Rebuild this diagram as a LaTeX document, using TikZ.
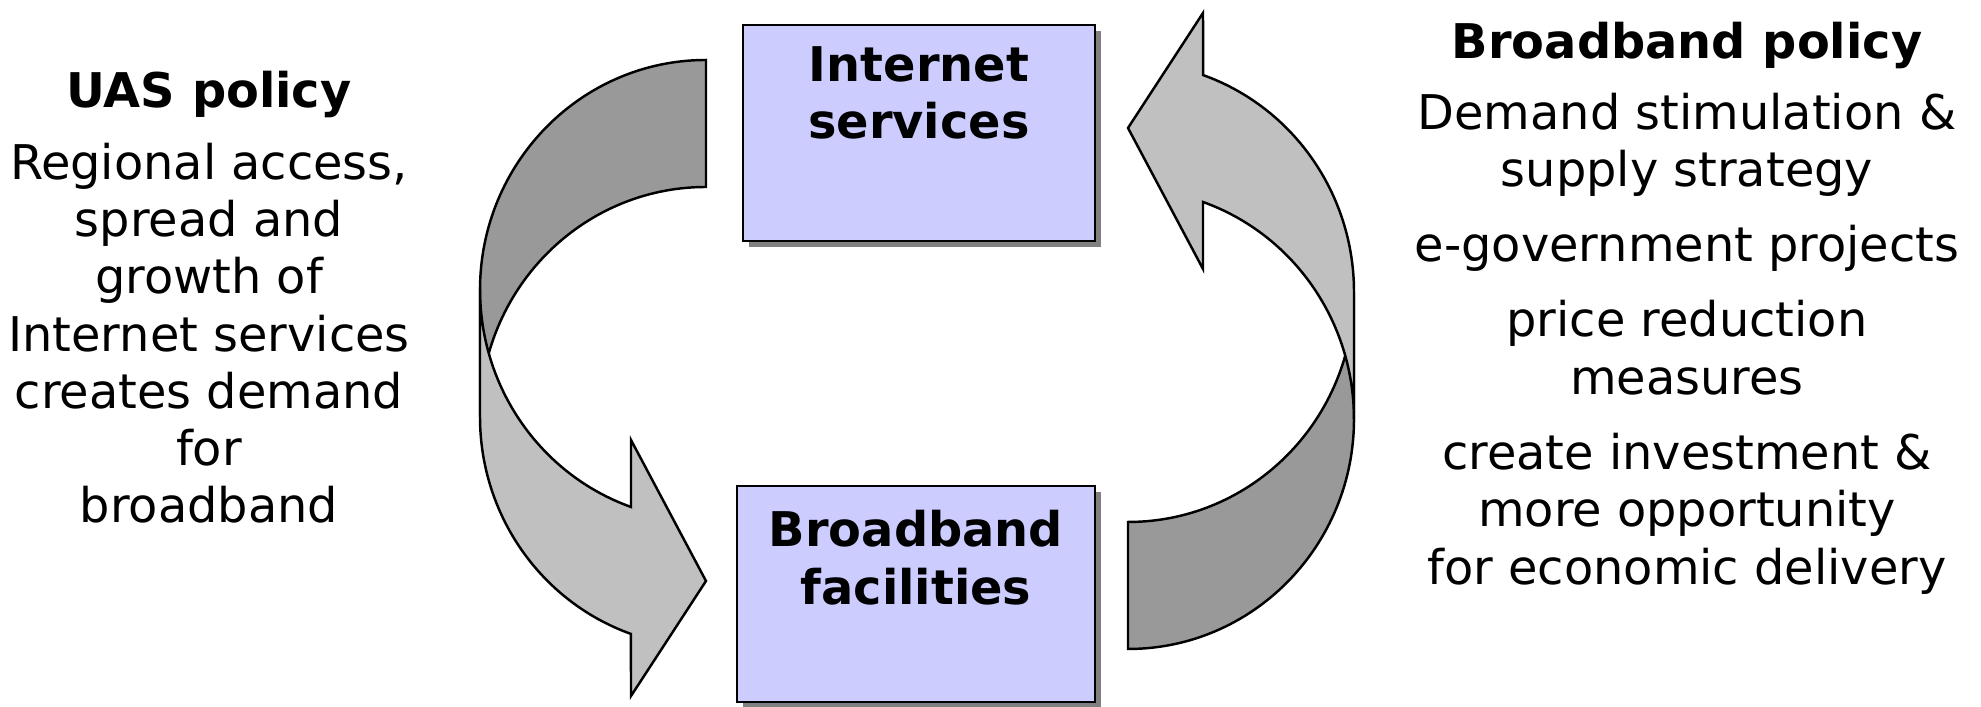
\documentclass[tikz,border=0pt]{standalone}
\usepackage{fontspec}
\setmainfont{DejaVu Sans}
\usepackage{xcolor}
\usepackage{tikz}
\usetikzlibrary{shadows}
\usetikzlibrary{positioning}

\definecolor{boxblue}{HTML}{CCCCFF}
\definecolor{boxshade}{HTML}{808080}
\definecolor{backgray}{HTML}{999999}
\definecolor{frontgray}{HTML}{C0C0C0}

% curved ribbon arrow: back band first, then the front band with its head
\newcommand{\loopband}{%
  \draw[backband] (706,647) arc[start angle=90,end angle=180,x radius=226,y radius=230]
    -- (480,290) arc[start angle=180,end angle=90,x radius=226,y radius=230] -- cycle;
  \draw[frontband] (480,417) -- (480,290)
    arc[start angle=180,end angle=250.6,x radius=226,y radius=230]
    -- (631,11) -- (706,126) -- (631,267) -- (631,200)
    arc[start angle=250.6,end angle=180,x radius=226,y radius=230] -- cycle;
}

\begin{document}
\begin{tikzpicture}[
  x=0.01cm, y=0.01cm,
  every node/.style={font=\fontsize{13.6}{16.3}\selectfont, align=center, inner sep=0pt},
  heading/.style={font=\fontsize{13.6}{16.3}\selectfont\bfseries},
  stagebox/.style={draw, line width=0.7pt, fill=boxblue, minimum height=2.16cm,
    drop shadow={shadow xshift=0.06cm, shadow yshift=-0.06cm, fill=boxshade, opacity=1}},
  backband/.style={draw, line width=0.7pt, fill=backgray},
  frontband/.style={draw, line width=0.7pt, fill=frontgray}]
\useasboundingbox (0,0) rectangle (1981,707);

% the two stages
\node[stagebox, minimum width=3.52cm] (inet) at (919,574) {};
\node[heading, below=0.22cm of inet.north] (inetlabel) {Internet\\services};
\node[stagebox, minimum width=3.58cm] (bband) at (916,113) {};
\node[heading, below=0.25cm of bband.north] (bbandlabel) {Broadband\\facilities};

% arrows between them
\loopband
\begin{scope}[rotate around={180:(917,352.5)}]
  \loopband
\end{scope}

% left column
\node[heading, anchor=base] (uas) at (209,599) {UAS policy};
\node[below=0.23cm of uas] (uasbody) {Regional access,\\spread and\\growth of\\Internet services\\creates demand\\for\\broadband};

% right column
\node[heading, anchor=base] (bbpolicy) at (1687,648) {Broadband policy};
\node[below=0.22cm of bbpolicy] (bbdemand) {Demand stimulation \&\\supply strategy};
\node[below=0.27cm of bbdemand] (bbegov) {e-government projects};
\node[below=0.28cm of bbegov] (bbprice) {price reduction\\measures};
\node[below=0.37cm of bbprice] (bbinvest) {create investment \&\\more opportunity\\for economic delivery};
\end{tikzpicture}
\end{document}
